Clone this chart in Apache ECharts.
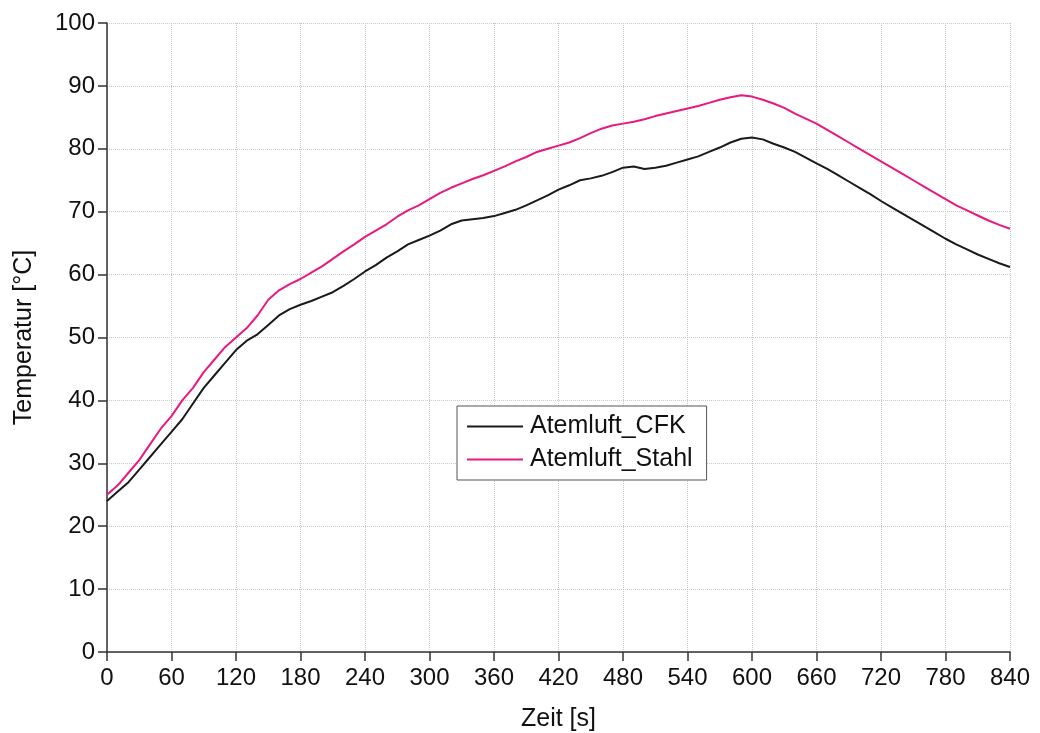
<!DOCTYPE html>
<html lang="de">
<head>
    <meta charset="UTF-8">
    <title>Temperatur</title>
    <script src="https://cdn.jsdelivr.net/npm/echarts@6/dist/echarts.min.js"></script>
    <style>
        html, body { margin: 0; padding: 0; background: #fff; }
        #main { width: 1040px; height: 733px; }
    </style>
</head>
<body>
    <div id="main"></div>
    <script type="text/javascript">
        var zeit = [];
        for (var t = 0; t <= 840; t += 10) zeit.push(t);

        var cfk = [
            24, 25.5, 27, 29, 31, 33, 35, 37, 39.5, 42,
            44, 46, 48, 49.5, 50.5, 52, 53.5, 54.5, 55.2, 55.8,
            56.5, 57.2, 58.2, 59.3, 60.5, 61.5, 62.7, 63.7, 64.8, 65.5,
            66.2, 67, 68, 68.6, 68.8, 69, 69.3, 69.8, 70.3, 71,
            71.8, 72.6, 73.5, 74.2, 75, 75.3, 75.7, 76.3, 77, 77.2,
            76.8, 77, 77.3, 77.8, 78.3, 78.8, 79.5, 80.2, 81, 81.6,
            81.8, 81.5, 80.8, 80.2, 79.5, 78.6, 77.7, 76.8, 75.8, 74.8,
            73.8, 72.8, 71.7, 70.7, 69.7, 68.7, 67.7, 66.7, 65.7, 64.8,
            64, 63.2, 62.5, 61.8, 61.2
        ];

        var stahl = [
            25, 26.5, 28.5, 30.5, 33, 35.5, 37.5, 40, 42, 44.5,
            46.5, 48.5, 50, 51.5, 53.5, 56, 57.5, 58.5, 59.3, 60.3,
            61.3, 62.5, 63.7, 64.8, 66, 67, 68, 69.2, 70.2, 71,
            72, 73, 73.8, 74.5, 75.2, 75.8, 76.5, 77.2, 78, 78.7,
            79.5, 80, 80.5, 81, 81.7, 82.5, 83.2, 83.7, 84, 84.3,
            84.7, 85.2, 85.6, 86, 86.4, 86.8, 87.3, 87.8, 88.2, 88.5,
            88.3, 87.8, 87.2, 86.5, 85.6, 84.8, 84, 83, 82, 81,
            80, 79, 78, 77, 76, 75, 74, 73, 72, 71,
            70.2, 69.4, 68.6, 67.9, 67.3
        ];

        function paare(xs, ys) {
            return xs.map(function (x, i) { return [x, ys[i]]; });
        }

        var schrift = '"Liberation Sans", Arial, sans-serif';
        var myChart = echarts.init(document.getElementById('main'));

        var option = {
            animation: false,
            textStyle: { fontFamily: schrift },
            grid: { left: 107, right: 30, top: 23, bottom: 81, containLabel: false, outerBoundsMode: 'none' },
            legend: {
                orient: 'vertical',
                left: 457,
                top: 406,
                padding: [8, 14, 8, 10],
                itemGap: 8,
                itemWidth: 56,
                itemHeight: 2,
                icon: 'rect',
                backgroundColor: '#fff',
                borderColor: '#555',
                borderWidth: 1,
                borderRadius: 0,
                textStyle: { fontSize: 25, color: '#111', fontFamily: schrift, padding: [0, 0, 0, 2] },
                data: ['Atemluft_CFK', 'Atemluft_Stahl']
            },
            xAxis: {
                type: 'value',
                min: 0,
                max: 840,
                interval: 60,
                name: 'Zeit [s]',
                nameLocation: 'middle',
                nameGap: 55,
                nameTextStyle: { fontSize: 25, color: '#111' },
                axisLine: { lineStyle: { color: '#333', width: 1.5 } },
                axisTick: { length: 9, lineStyle: { color: '#333', width: 1.5 } },
                axisLabel: { fontSize: 24, color: '#111', margin: 14 },
                splitLine: { show: true, lineStyle: { color: '#c8c8c8', type: 'dotted', width: 1 } }
            },
            yAxis: {
                type: 'value',
                min: 0,
                max: 100,
                interval: 10,
                name: 'Temperatur [°C]',
                nameLocation: 'middle',
                nameGap: 70,
                nameTextStyle: { fontSize: 25, color: '#111' },
                axisLine: { show: true, lineStyle: { color: '#333', width: 1.5 } },
                axisTick: { show: true, length: 9, lineStyle: { color: '#333', width: 1.5 } },
                axisLabel: { fontSize: 24, color: '#111', margin: 12 },
                splitLine: { show: true, lineStyle: { color: '#c8c8c8', type: 'dotted', width: 1 } }
            },
            series: [
                {
                    name: 'Atemluft_CFK',
                    type: 'line',
                    symbol: 'none',
                    data: paare(zeit, cfk),
                    lineStyle: { color: '#1a1a1a', width: 2 },
                    itemStyle: { color: '#1a1a1a' }
                },
                {
                    name: 'Atemluft_Stahl',
                    type: 'line',
                    symbol: 'none',
                    data: paare(zeit, stahl),
                    lineStyle: { color: '#e8197f', width: 2 },
                    itemStyle: { color: '#e8197f' }
                }
            ]
        };
        myChart.setOption(option);
    </script>
</body>
</html>
